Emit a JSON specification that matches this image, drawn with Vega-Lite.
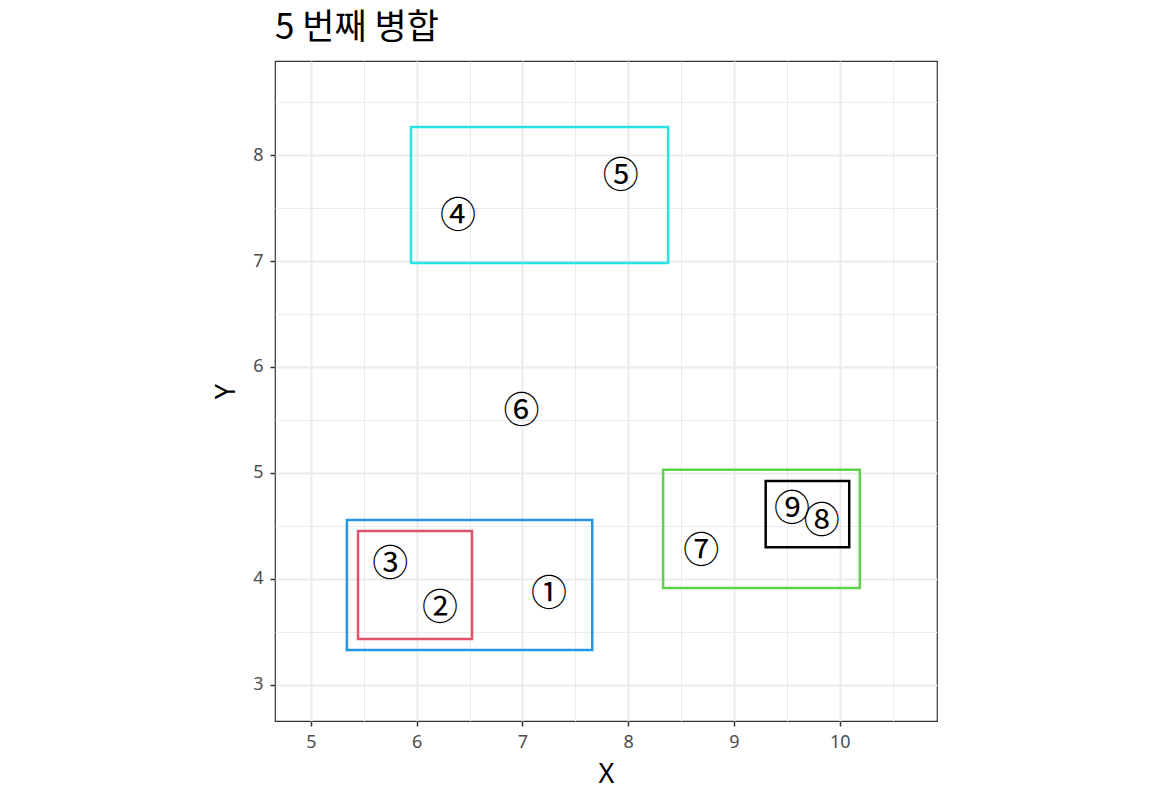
{
  "$schema": "https://vega.github.io/schema/vega-lite/v6.json",
  "autosize": {"type": "none"},
  "padding": {"left": 275, "top": 61, "right": 215, "bottom": 85},
  "width": 662,
  "height": 660,
  "title": {"text": "5 번째 병합", "anchor": "start", "frame": "group", "font": "Noto Sans CJK KR", "fontSize": 35, "fontWeight": "normal", "color": "#000000", "offset": 15},
  "config": {
    "view": {"stroke": "#333333", "strokeWidth": 1.2},
    "font": "Noto Sans CJK KR",
    "axis": {"domain": false, "labelFont": "Noto Sans", "titleFont": "Noto Sans"}
  },
  "datasets": {
    "points": [
      {"label": "①", "x": 7.25, "y": 3.87},
      {"label": "②", "x": 6.22, "y": 3.74},
      {"label": "③", "x": 5.75, "y": 4.15},
      {"label": "④", "x": 6.39, "y": 7.43},
      {"label": "⑤", "x": 7.93, "y": 7.81},
      {"label": "⑥", "x": 6.99, "y": 5.59},
      {"label": "⑦", "x": 8.69, "y": 4.27},
      {"label": "⑧", "x": 9.83, "y": 4.56},
      {"label": "⑨", "x": 9.55, "y": 4.67}
    ],
    "boxes": [
      {"group": "g1", "xmin": 9.3, "xmax": 10.09, "ymin": 4.3, "ymax": 4.925},
      {"group": "g2", "xmin": 5.445, "xmax": 6.523, "ymin": 3.434, "ymax": 4.453},
      {"group": "g3", "xmin": 8.33, "xmax": 10.19, "ymin": 3.915, "ymax": 5.03},
      {"group": "g4", "xmin": 5.34, "xmax": 7.66, "ymin": 3.33, "ymax": 4.557},
      {"group": "g5", "xmin": 5.946, "xmax": 8.378, "ymin": 6.981, "ymax": 8.264}
    ]
  },
  "layer": [
    {
      "data": {"name": "boxes"},
      "mark": {"type": "rect", "filled": false, "strokeWidth": 2.5},
      "encoding": {
        "x": {"field": "xmin", "type": "quantitative", "scale": {"domain": [4.66, 10.92], "nice": false, "zero": false},
              "axis": {"values": [4.5, 5, 5.5, 6, 6.5, 7, 7.5, 8, 8.5, 9, 9.5, 10, 10.5], "orient": "bottom", "grid": true, "gridColor": "#EBEBEB",
                       "gridWidth": {"condition": {"test": "datum.value % 1 !== 0", "value": 1}, "value": 2},
                       "tickOpacity": {"condition": {"test": "datum.value % 1 !== 0", "value": 0}, "value": 1},
                       "labelExpr": "datum.value % 1 === 0 ? format(datum.value, 'd') : ''",
                       "tickColor": "#333333", "tickWidth": 1.5, "tickSize": 5, "labelColor": "#4D4D4D", "labelFontSize": 18, "labelPadding": 7, "title": "X", "titleFontSize": 27, "titleFontWeight": "normal", "titleColor": "#000000", "titlePadding": 10}},
        "x2": {"field": "xmax"},
        "y": {"field": "ymin", "type": "quantitative", "scale": {"domain": [2.66, 8.887], "nice": false, "zero": false},
              "axis": {"values": [2.5, 3, 3.5, 4, 4.5, 5, 5.5, 6, 6.5, 7, 7.5, 8, 8.5], "orient": "left", "grid": true, "gridColor": "#EBEBEB",
                       "gridWidth": {"condition": {"test": "datum.value % 1 !== 0", "value": 1}, "value": 2},
                       "tickOpacity": {"condition": {"test": "datum.value % 1 !== 0", "value": 0}, "value": 1},
                       "labelExpr": "datum.value % 1 === 0 ? format(datum.value, 'd') : ''",
                       "tickColor": "#333333", "tickWidth": 1.5, "tickSize": 5, "labelColor": "#4D4D4D", "labelFontSize": 18, "labelPadding": 7, "title": "Y", "titleFontSize": 27, "titleFontWeight": "normal", "titleColor": "#000000", "titlePadding": 12}},
        "y2": {"field": "ymax"},
        "stroke": {"field": "group", "type": "nominal", "legend": null,
                   "scale": {"domain": ["g1", "g2", "g3", "g4", "g5"], "range": ["#000000", "#DF536B", "#61D04F", "#2297E6", "#28E2E5"]}}
      }
    },
    {
      "data": {"name": "points"},
      "mark": {"type": "text", "fontSize": 36, "font": "Noto Sans CJK KR", "color": "#000000", "baseline": "middle", "align": "center", "dy": 2},
      "encoding": {
        "x": {"field": "x", "type": "quantitative"},
        "y": {"field": "y", "type": "quantitative"},
        "text": {"field": "label"}
      }
    }
  ]
}
